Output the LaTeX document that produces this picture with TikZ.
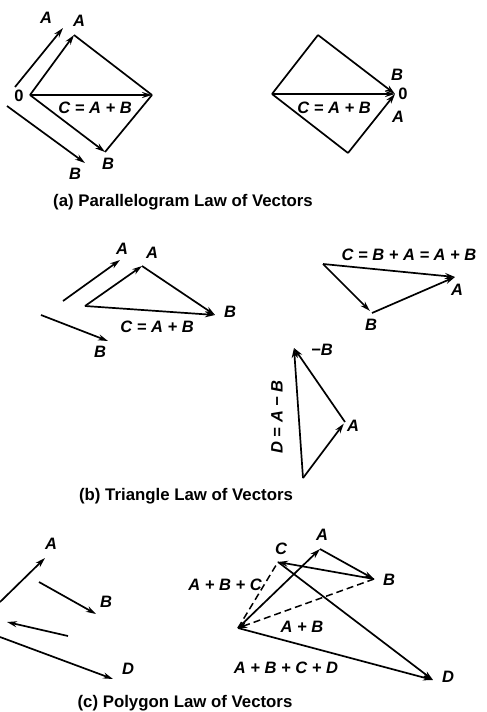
\documentclass[tikz,border=0pt]{standalone}
\usepackage{fontspec}
\setmainfont{Liberation Sans}
\usetikzlibrary{arrows.meta}
\begin{document}
\begin{tikzpicture}[x=1pt,y=-1pt,
  vec/.style={line width=1.7pt,-{Stealth[length=10pt,width=6pt]}},
  rvec/.style={line width=1.5pt,dash pattern=on 7pt off 4pt,-{Stealth[length=9pt,width=6pt]}},
  seg/.style={line width=1.7pt},
  dseg/.style={line width=1.5pt,dash pattern=on 7pt off 4pt},
  lab/.style={font=\fontsize{16.5}{19}\selectfont\bfseries\itshape, inner sep=0pt},
  num/.style={font=\fontsize{16.5}{19}\selectfont\bfseries, inner sep=0pt},
  captext/.style={font=\fontsize{16.8}{20}\selectfont\bfseries, inner sep=0pt}]
\useasboundingbox (0,0) rectangle (487,712);

% ---------- (a) left ----------
\coordinate (aO) at (30,95);
\coordinate (aA) at (74,35);
\coordinate (aC) at (152,95);
\coordinate (aB) at (105,152);
\coordinate (saA0) at (15,87);
\coordinate (saA1) at (63,28);
\coordinate (saB0) at (7,106);
\coordinate (saB1) at (85,163);
\draw[vec] (aO) -- (aA);
\draw[seg] (aA) -- (aC);
\draw[vec] (aO) -- (aC);
\draw[vec] (aO) -- (aB);
\draw[seg] (aB) -- (aC);
\draw[vec] (saA0) -- (saA1);
\draw[vec] (saB0) -- (saB1);
\node[num] (laO) at (19,96) {0};
\node[lab] (laA) at (79,21) {A};
\node[lab] (laB) at (108,164) {B};
\node[lab] (lsA) at (46,18) {A};
\node[lab] (lsB) at (75,174) {B};
\node[lab] (laC) at (95,108) {C = A + B};

% ---------- (a) right ----------
\coordinate (bL) at (272,94);
\coordinate (bT) at (318,35);
\coordinate (bB) at (348,153);
\coordinate (bO) at (395,94);
\draw[seg] (bL) -- (bT);
\draw[seg] (bL) -- (bB);
\draw[vec] (bT) -- (bO);
\draw[vec] (bL) -- (bO);
\draw[vec] (bB) -- (bO);
\node[lab] (lbB) at (397,75) {B};
\node[num] (lbO) at (403,94) {0};
\node[lab] (lbA) at (398,117) {A};
\node[lab] (lbC) at (334,108) {C = A + B};

\node[captext] (capa) at (183,202) {(a) Parallelogram Law of Vectors};

% ---------- (b) left ----------
\coordinate (sbA0) at (63,301);
\coordinate (sbA1) at (120,260);
\coordinate (sbB0) at (41,315);
\coordinate (sbB1) at (108,341);
\coordinate (tP) at (85,306);
\coordinate (tQ) at (142,266);
\coordinate (tR) at (215,315);
\draw[vec] (sbA0) -- (sbA1);
\draw[vec] (sbB0) -- (sbB1);
\draw[vec] (tP) -- (tQ);
\draw[vec] (tQ) -- (tR);
\draw[vec] (tP) -- (tR);
\node[lab] (lsbA) at (122,249) {A};
\node[lab] (lsbB) at (100,352) {B};
\node[lab] (ltA) at (152,253) {A};
\node[lab] (ltB) at (230,312) {B};
\node[lab] (ltC) at (157,327) {C = A + B};

% ---------- (b) right ----------
\coordinate (uS) at (323,264);
\coordinate (uB) at (372,313);
\coordinate (uA) at (455,277);
\draw[vec,shorten >=3pt] (uS) -- (uB);
\draw[vec] (uB) -- (uA);
\draw[vec] (uS) -- (uA);
\node[lab] (luC) at (409,255) {C = B + A = A + B};
\node[lab] (luA) at (457,290) {A};
\node[lab] (luB) at (371,325) {B};

% ---------- (b) bottom ----------
\coordinate (vT) at (294,348);
\coordinate (vA) at (345,422);
\coordinate (vB) at (303,478);
\draw[vec,shorten >=2pt] (vB) -- (vA);
\draw[vec] (vA) -- (vT);
\draw[vec] (vB) -- (vT);
\node[lab] (lvmB) at (322,350) {−B};
\node[lab] (lvA) at (353,426) {A};
\node[lab,rotate=90] (lvD) at (277,417) {D = A − B};

\node[captext] (capb) at (186,496) {(b) Triangle Law of Vectors};

% ---------- (c) left ----------
\coordinate (cA0) at (0,602);
\coordinate (cA1) at (45,558);
\coordinate (cB0) at (39,582);
\coordinate (cB1) at (96,614);
\coordinate (cC0) at (68,636);
\coordinate (cC1) at (7,622);
\coordinate (cD0) at (0,637);
\coordinate (cD1) at (113,679);
\draw[vec] (cA0) -- (cA1);
\draw[vec] (cB0) -- (cB1);
\draw[vec] (cC0) -- (cC1);
\draw[vec] (cD0) -- (cD1);
\node[lab] (lcA) at (51,544) {A};
\node[lab] (lcB) at (106,602) {B};
\node[lab] (lcD) at (128,669) {D};

% ---------- (c) right ----------
\coordinate (pO) at (238,628);
\coordinate (pA) at (320,549);
\coordinate (pB) at (374,579);
\coordinate (pC) at (278,562);
\coordinate (pD) at (433,680);
\draw[vec] (pO) -- (pA);
\draw[vec] (pA) -- (pB);
\draw[vec] (pB) -- (pC);
\draw[vec] (pC) -- (pD);
\draw[vec] (pO) -- (pD);
\draw[rvec] (pB) -- (pO);
\draw[dseg] (pO) -- (pC);
\node[lab] (lpA) at (322,535) {A};
\node[lab] (lpB) at (389,580) {B};
\node[lab] (lpC) at (281,549) {C};
\node[lab] (lpD) at (448,677) {D};
\node[lab] (lpABC) at (225,585) {A + B + C};
\node[lab] (lpAB) at (302,627) {A + B};
\node[lab] (lpABCD) at (286,668) {A + B + C + D};

\node[captext] (capc) at (185,703) {(c) Polygon Law of Vectors};
\end{tikzpicture}
\end{document}
